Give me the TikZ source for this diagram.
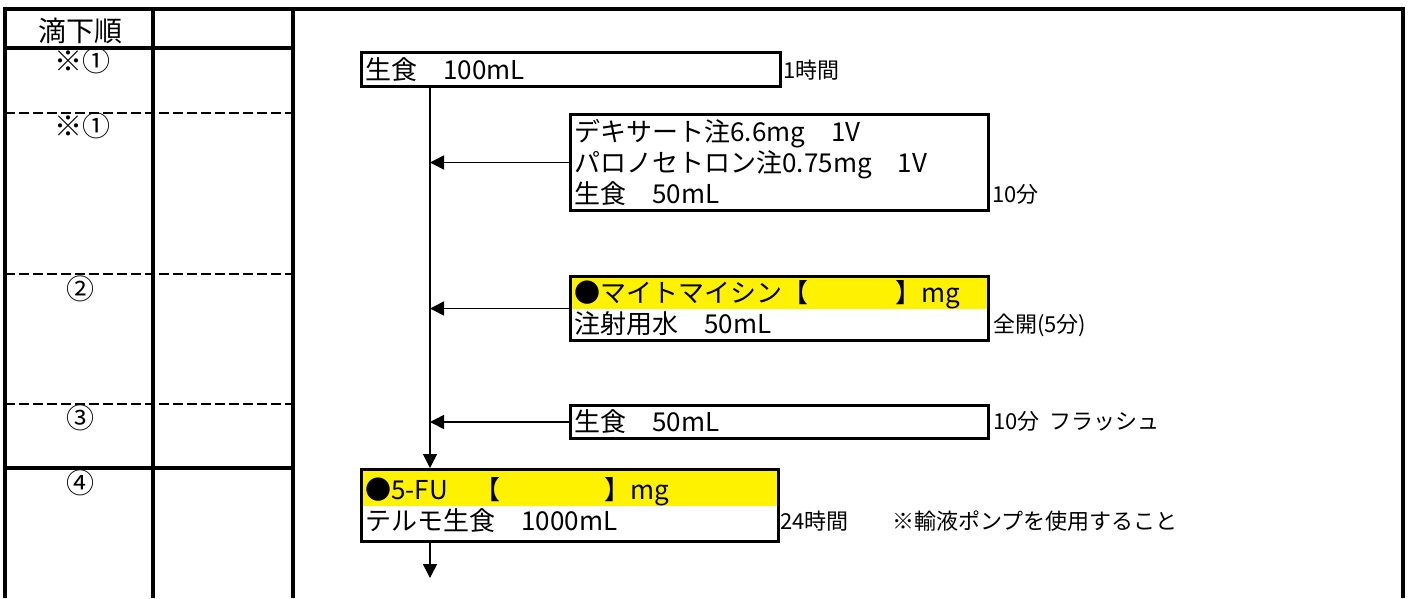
\documentclass[tikz,border=0pt]{standalone}
\usepackage{fontspec}
\newfontfamily\jpfont{Noto Sans CJK JP}
\usetikzlibrary{arrows.meta}
\tikzset{
  drug/.style={draw, line width=3pt, anchor=north west, align=left, inner xsep=4pt, inner ysep=0pt, font=\jpfont\fontsize{26}{31}\selectfont},
  halfyellow/.style={path picture={\fill[yellow] (path picture bounding box.north west) rectangle (path picture bounding box.east);}},
  note/.style={anchor=west, inner sep=0pt, font=\jpfont\fontsize{22}{26}\selectfont},
  order/.style={inner sep=0pt, font=\jpfont\fontsize{28}{32}\selectfont},
  flow/.style={line width=1.6pt, -{Triangle[length=14pt,width=14pt]}},
  tableline/.style={line width=3.8pt},
  dashrow/.style={line width=2.8pt, dash pattern=on 10pt off 4pt}
}
\begin{document}
\begin{tikzpicture}[x=1pt,y=-1pt]
\useasboundingbox (0,0) rectangle (1410,598);
\draw[tableline] (5,598) -- (5,9) -- (1403,9) -- (1403,598);
\draw[tableline] (153,9) -- (153,598);
\draw[tableline] (293,9) -- (293,598);
\draw[tableline] (5,48) -- (293,48);
\draw[dashrow] (5,113) -- (293,113);
\draw[dashrow] (5,274) -- (293,274);
\draw[dashrow] (5,404) -- (293,404);
\draw[tableline] (5,468) -- (293,468);

\node[order] (head) at (80,31) {滴下順};
\node[order] (o1) at (82,61) {※①};
\node[order] (o1b) at (82,126) {※①};
\node[order] (o2) at (80,289) {②};
\node[order] (o3) at (80,418) {③};
\node[order] (o4) at (80,483) {④};

\node[drug, text width=411pt, minimum height=34pt] (saline) at (360,51) {生食　100mL};
\node[drug, text width=410pt, minimum height=96pt] (dex) at (569,113) {デキサート注6.6mg　1V\\パロノセトロン注0.75mg　1V\\生食　50mL};
\node[drug, halfyellow, text width=410pt, minimum height=64pt] (mmc) at (569,275) {●マイトマイシン【　　　 】mg\\注射用水　50mL};
\node[drug, text width=410pt, minimum height=33pt] (flush) at (569,404) {生食　50mL};
\node[drug, halfyellow, text width=409pt, minimum height=72pt] (fu) at (360,468) {●5-FU　【　　　　】mg\\テルモ生食　1000mL};

\node[note] (t1) at (783,70) {1時間};
\node[note] (t2) at (992,194) {10分};
\node[note] (t3) at (993,325) {全開(5分)};
\node[note] (t4) at (993,421) {10分~~フラッシュ};
\node[note] (t5) at (780,521) {24時間　　※輸液ポンプを使用すること};

\coordinate (trunk) at (430,0);
\coordinate (outflow) at (430,578);
\draw[flow] (saline.south -| trunk) -- (fu.north -| trunk);
\draw[flow] (dex.west) -- (dex.west -| trunk);
\draw[flow] (mmc.west) -- (mmc.west -| trunk);
\draw[flow] (flush.west) -- (flush.west -| trunk);
\draw[flow] (fu.south -| trunk) -- (outflow);
\end{tikzpicture}
\end{document}
